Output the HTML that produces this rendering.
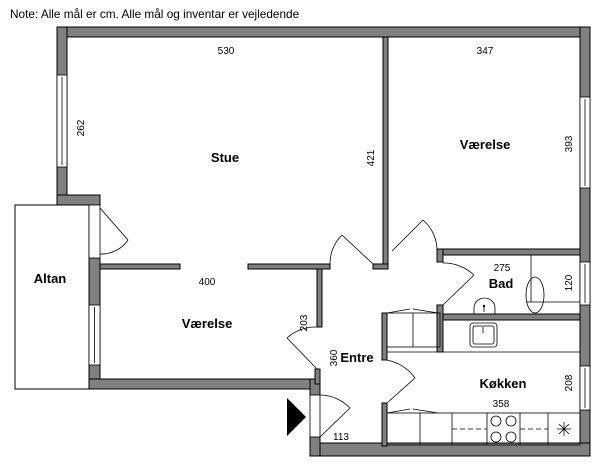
<!DOCTYPE html>
<html><head><meta charset="utf-8"><style>
html,body{margin:0;padding:0;background:#fff;}
svg{display:block;}
text{font-family:"Liberation Sans",sans-serif;fill:#000;}
.w{fill:#808080;stroke:#000;stroke-width:1;}
.l{fill:none;stroke:#000;stroke-width:0.8;}
.win{fill:#fff;stroke:#000;stroke-width:0.8;}
.b{font-weight:bold;font-size:13px;}
.d{font-size:10px;}
</style></head><body>
<svg width="600" height="464" viewBox="0 0 600 464" xmlns="http://www.w3.org/2000/svg">
<text x="10" y="18" font-size="11.8">Note: Alle mål er cm. Alle mål og inventar er vejledende</text>

<rect x="15" y="205" width="74" height="184" fill="#fff" stroke="#000" stroke-width="1"/>

<rect class="w" x="57" y="27" width="533" height="10"/>
<rect class="w" x="57" y="27" width="10" height="168"/>
<rect class="w" x="57" y="195" width="43" height="10"/>
<rect class="w" x="89" y="258" width="11" height="131"/>
<rect class="w" x="89" y="379" width="231" height="10"/>
<rect class="w" x="580" y="27" width="10" height="429"/>
<rect class="w" x="310" y="443" width="280" height="13"/>
<rect class="w" x="310" y="437" width="10" height="19"/>
<rect class="w" x="310" y="379" width="10" height="16"/>
<rect class="w" x="315" y="369" width="5" height="15"/>

<rect class="win" x="57" y="75" width="10" height="92"/><line class="l" x1="62" y1="77" x2="62" y2="165"/>
<rect class="win" x="89" y="305" width="11" height="60"/><line class="l" x1="94.5" y1="307" x2="94.5" y2="363"/>
<rect class="win" x="580" y="97" width="10" height="91"/><line class="l" x1="585" y1="99" x2="585" y2="186"/>
<rect class="win" x="580" y="262" width="10" height="43"/><line class="l" x1="585" y1="264" x2="585" y2="303"/>
<rect class="win" x="580" y="366" width="10" height="44"/><line class="l" x1="585" y1="368" x2="585" y2="408"/>

<rect class="win" x="89" y="205" width="11" height="53"/>
<line class="l" x1="100" y1="208" x2="128" y2="240"/>
<path class="l" d="M128,240 A32,32 0 0 1 100,254"/>

<rect class="w" x="383" y="37" width="5" height="232"/>
<rect class="w" x="373" y="264" width="15" height="5"/>
<rect class="w" x="100" y="264" width="80" height="5"/>
<rect class="w" x="248" y="264" width="82" height="5"/>
<rect class="w" x="317" y="269" width="5" height="58"/>
<line class="l" x1="373" y1="264" x2="342" y2="235"/>
<path class="l" d="M342,235 A40,40 0 0 0 330,264"/>
<line class="l" x1="392" y1="251" x2="423" y2="220"/>
<path class="l" d="M423,220 A40,40 0 0 1 437,251"/>
<line class="l" x1="317" y1="369" x2="287" y2="338"/>
<path class="l" d="M287,338 A42,42 0 0 1 317,327"/>

<rect class="w" x="437" y="249" width="143" height="6"/>
<rect class="w" x="437" y="249" width="6" height="13"/>
<rect class="w" x="437" y="305" width="6" height="47"/>
<rect class="w" x="443" y="314" width="137" height="6"/>
<path class="l" d="M443,263 A44,44 0 0 1 474,275"/>
<line class="l" x1="474" y1="275" x2="443" y2="305"/>
<line class="l" x1="531" y1="255" x2="531" y2="302"/>
<line class="l" x1="526" y1="302" x2="580" y2="302"/>
<ellipse class="l" cx="535" cy="295" rx="9" ry="18"/>
<path class="l" d="M474,314 L474,308 A10.5,10 0 0 1 495,308 L495,314"/>
<circle cx="484" cy="306" r="1.2"/><line class="l" x1="484" y1="306" x2="484" y2="312"/>

<rect class="w" x="382" y="313" width="5" height="47"/>
<rect class="w" x="382" y="403" width="5" height="43"/>
<rect class="l" x="387" y="313" width="53" height="34"/>
<line class="l" x1="413" y1="313" x2="413" y2="347"/>
<path class="l" d="M387,313 L410,309 M413,309 L438,313"/>
<line class="l" x1="387" y1="352" x2="580" y2="352"/>
<rect class="l" x="470" y="323" width="27" height="24" rx="3"/>
<rect class="l" x="473" y="326" width="21" height="18" rx="2"/>
<line class="l" x1="483" y1="327" x2="483" y2="333"/>
<path class="l" d="M386,360 A44,44 0 0 1 415,378"/>
<line class="l" x1="415" y1="378" x2="387" y2="403"/>
<rect class="l" x="387" y="413" width="193" height="32"/>
<line class="l" x1="420" y1="413" x2="420" y2="445"/>
<line class="l" x1="452" y1="413" x2="452" y2="445"/>
<line class="l" x1="487" y1="413" x2="487" y2="445"/>
<line class="l" x1="520" y1="413" x2="520" y2="445"/>
<line class="l" x1="548" y1="413" x2="548" y2="445"/>
<path class="l" d="M387,413 L410,409 M413,409 L438,413"/>
<line class="l" x1="452" y1="429" x2="487" y2="429" stroke-dasharray="5,3"/>
<line class="l" x1="520" y1="429" x2="548" y2="429" stroke-dasharray="5,3"/>
<circle class="l" cx="496" cy="421" r="5"/><circle class="l" cx="511" cy="421" r="5"/>
<circle class="l" cx="496" cy="437" r="5"/><circle class="l" cx="511" cy="437" r="5"/>
<path class="l" d="M557,429 h14 M564,422 v14 M559,424 l10,10 M569,424 l-10,10"/>

<rect class="win" x="310" y="395" width="10" height="42"/>
<line class="l" x1="320" y1="437" x2="350" y2="408"/>
<path class="l" d="M350,408 A42,42 0 0 0 320,395"/>
<polygon points="287,398 306,417 287,436" fill="#000"/>

<text class="b" x="225" y="162" text-anchor="middle">Stue</text>
<text class="b" x="485" y="149" text-anchor="middle">Værelse</text>
<text class="b" x="50" y="283" text-anchor="middle">Altan</text>
<text class="b" x="207" y="328" text-anchor="middle">Værelse</text>
<text class="b" x="357" y="362" text-anchor="middle">Entre</text>
<text class="b" x="501" y="288" text-anchor="middle">Bad</text>
<text class="b" x="503" y="388" text-anchor="middle">Køkken</text>
<text class="d" x="226" y="54" text-anchor="middle">530</text>
<text class="d" x="485" y="54" text-anchor="middle">347</text>
<text class="d" x="207" y="285" text-anchor="middle">400</text>
<text class="d" x="502" y="271" text-anchor="middle">275</text>
<text class="d" x="501" y="407" text-anchor="middle">358</text>
<text class="d" x="341" y="440" text-anchor="middle">113</text>
<text class="d" transform="translate(84,128) rotate(-90)" text-anchor="middle">262</text>
<text class="d" transform="translate(374,158) rotate(-90)" text-anchor="middle">421</text>
<text class="d" transform="translate(572,144) rotate(-90)" text-anchor="middle">393</text>
<text class="d" transform="translate(307,323) rotate(-90)" text-anchor="middle">203</text>
<text class="d" transform="translate(337,358) rotate(-90)" text-anchor="middle">360</text>
<text class="d" transform="translate(572,283) rotate(-90)" text-anchor="middle">120</text>
<text class="d" transform="translate(572,383) rotate(-90)" text-anchor="middle">208</text>
</svg>
</body></html>
